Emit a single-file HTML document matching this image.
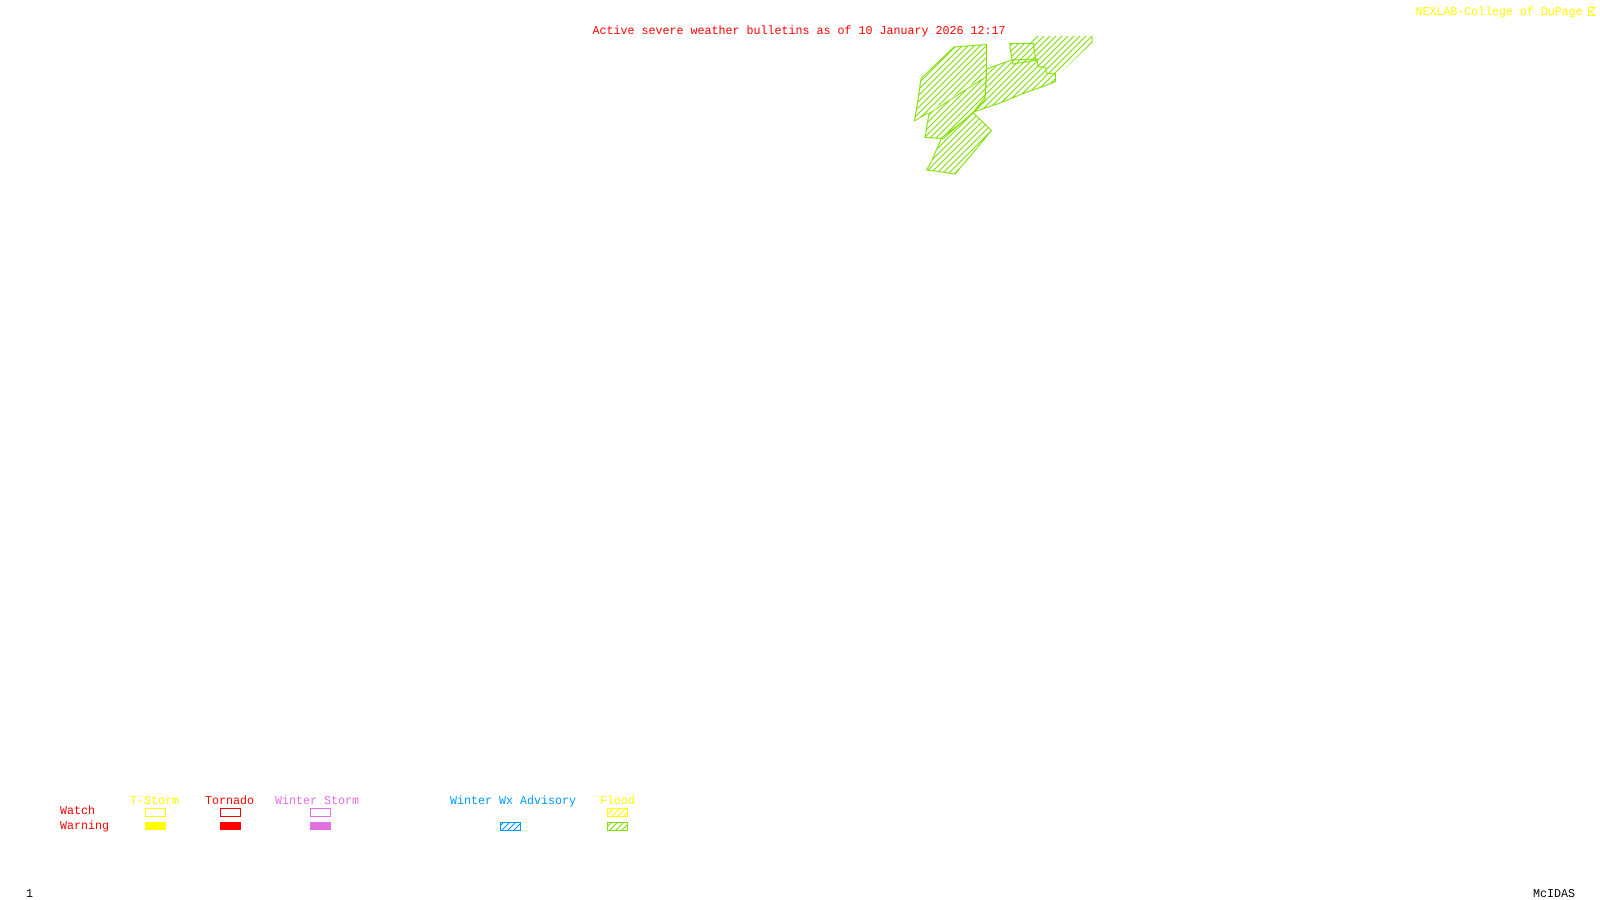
<!DOCTYPE html>
<html>
<head>
<meta charset="utf-8">
<title>Active severe weather bulletins</title>
<style>
html,body{margin:0;padding:0;background:#fff;width:1600px;height:900px;overflow:hidden}
svg{display:block}
text{font-family:"Liberation Mono",monospace;font-size:12px;text-rendering:geometricPrecision}
.c{shape-rendering:crispEdges}
</style>
</head>
<body>
<svg width="1600" height="900" viewBox="0 0 1600 900" xmlns="http://www.w3.org/2000/svg">
<defs>
<pattern id="hg" patternUnits="userSpaceOnUse" width="6" height="6">
<path class="c" d="M-1 7L7 -1M-1 1L1 -1M5 7L7 5" stroke="#7fe000" stroke-width="1" fill="none"/>
</pattern>
<pattern id="hb" patternUnits="userSpaceOnUse" width="6" height="6">
<path class="c" d="M-1 7L7 -1M-1 1L1 -1M5 7L7 5" stroke="#0099ff" stroke-width="1" fill="none"/>
</pattern>
<pattern id="hy" patternUnits="userSpaceOnUse" width="6" height="6">
<path class="c" d="M-1 7L7 -1M-1 1L1 -1M5 7L7 5" stroke="#ffff00" stroke-width="1" fill="none"/>
</pattern>
</defs>
<rect width="1600" height="900" fill="#fff"/>

<text x="592.5" y="34" fill="#ff0000" textLength="413" lengthAdjust="spacingAndGlyphs">Active severe weather bulletins as of 10 January 2026 12:17</text>
<text x="1415.5" y="15" fill="#ffff00" textLength="167" lengthAdjust="spacingAndGlyphs">NEXLAB-College of DuPage</text>
<g stroke="#ffff00" stroke-width="1" fill="none">
<path d="M1588.5 7.5H1595.5M1588.5 7.5V15.5H1595.5M1595 8L1590 11.5L1595 15.5"/>
</g>

<!-- polygons -->
<polygon fill="url(#hg)" points="1033,36 1092,36 1092,43 1055,78 1055,74 1046.5,73 1045.5,67.5 1038,66.5 1037,60 1035.5,58 1033.5,44 1026,44"/>
<polygon fill="url(#hg)" points="914.5,121 918,100 920.5,82 921.5,78 954,47 986.5,44.5 986.5,75"/>
<g fill="none" stroke="#7fe000" stroke-width="1">
<path d="M914.5,121 L918,100 920.5,82 921.5,78 954,47 986.5,44.5 986.5,75"/>
<path d="M914.5,121 L928,113"/>
</g>
<g stroke="#7fe000" stroke-width="1">
<polygon fill="url(#hg)" points="925,137.5 929,113.5 986.5,76.5 985,97 973.5,112 943.5,138.5"/>
<polygon fill="url(#hg)" points="926.5,170 931.5,161.5 941.5,138 973.5,113 991.5,130.5 970,156.5 955,174 935,171"/>
<polygon fill="url(#hg)" points="973.5,112 985,100 986.5,69 1011.5,60 1037,59 1038,66.5 1045.5,67.5 1046.5,73 1055.5,74 1055.5,81.5 1043,86.5 1027,92 1000,103"/>
<polygon fill="url(#hg)" points="1010,43.5 1033.5,43.5 1035.5,58.5 1037,60 1013,64 1012,59 1010,48"/>
</g>
<path d="M1092 36V43" stroke="#7fe000" stroke-width="1" fill="none"/>

<!-- legend -->
<text x="130" y="804" fill="#ffff00" textLength="49" lengthAdjust="spacingAndGlyphs">T-Storm</text>
<text x="205" y="804" fill="#ff0000" textLength="49" lengthAdjust="spacingAndGlyphs">Tornado</text>
<text x="275" y="804" fill="#e070e0" textLength="84" lengthAdjust="spacingAndGlyphs">Winter Storm</text>
<text x="450" y="804" fill="#0099ff" textLength="126" lengthAdjust="spacingAndGlyphs">Winter Wx Advisory</text>
<text x="600" y="804" fill="#ffff00" textLength="35" lengthAdjust="spacingAndGlyphs">Flood</text>
<text x="60" y="814" fill="#ff0000" textLength="35" lengthAdjust="spacingAndGlyphs">Watch</text>
<text x="60" y="829" fill="#ff0000" textLength="49" lengthAdjust="spacingAndGlyphs">Warning</text>

<rect x="145.5" y="808.5" width="20" height="8" fill="none" stroke="#ffff00"/>
<rect x="220.5" y="808.5" width="20" height="8" fill="none" stroke="#ff0000"/>
<rect x="310.5" y="808.5" width="20" height="8" fill="none" stroke="#e070e0"/>
<rect x="607.5" y="808.5" width="20" height="8" fill="url(#hy)" stroke="#ffff00"/>

<rect x="145" y="822" width="21" height="8" fill="#ffff00"/>
<rect x="220" y="822" width="21" height="8" fill="#ff0000"/>
<rect x="310" y="822" width="21" height="8" fill="#e070e0"/>
<rect x="500.5" y="822.5" width="20" height="8" fill="url(#hb)" stroke="#0099ff"/>
<rect x="607.5" y="822.5" width="20" height="8" fill="url(#hg)" stroke="#7fe000"/>

<text x="26" y="897" fill="#000000" textLength="7" lengthAdjust="spacingAndGlyphs">1</text>
<text x="1533" y="897" fill="#000000" textLength="42" lengthAdjust="spacingAndGlyphs">McIDAS</text>
</svg>
</body>
</html>
